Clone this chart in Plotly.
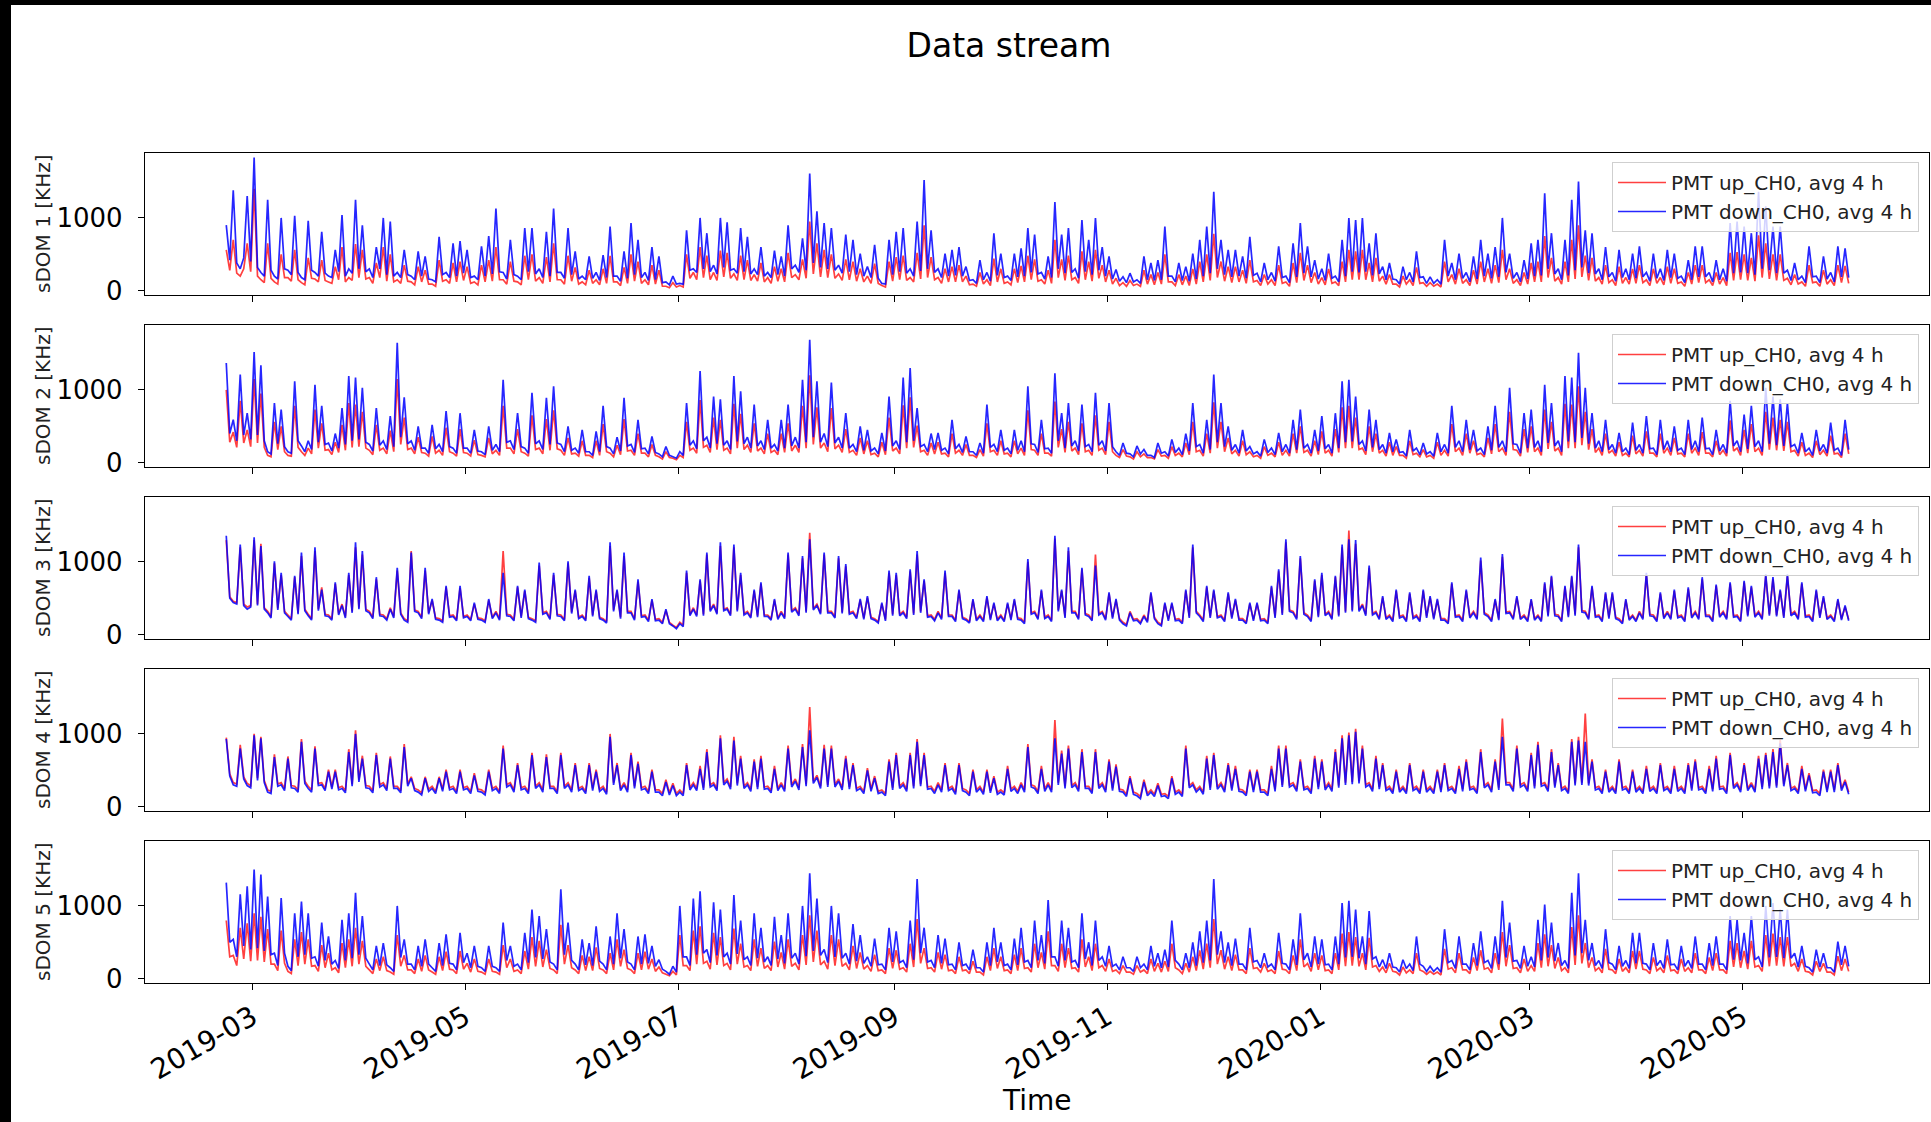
import pandas as pd
import plotly.graph_objects as go

# ---------------- data (KHz), one sub-list per month segment ----------------
MONTH_EDGES = ["2019-02-21", "2019-03-01", "2019-04-01", "2019-05-01", "2019-06-01", "2019-07-01",
               "2019-08-01", "2019-09-01", "2019-10-01", "2019-11-01", "2019-12-01", "2020-01-01",
               "2020-02-01", "2020-03-01", "2020-04-01", "2020-05-01", "2020-06-01"]

# spikes / main samples
SDOM1_DOWN = [
    [900, 1380, 300, 1300],
    [1830, 250, 1250, 200, 1000, 280, 1030, 180, 960, 250, 810, 200, 560, 1040, 300, 1250],
    [900, 300, 600, 1000, 950, 250, 560, 200, 540, 470, 150, 740, 250, 650, 680],
    [560, 200, 610, 750, 1130, 250, 700, 200, 860, 860, 300, 810, 1130, 250, 860],
    [540, 200, 470, 250, 490, 880, 200, 540, 930, 700, 250, 600, 470, 120, 200],
    [100, 830, 300, 1000, 790, 350, 1000, 940, 300, 860, 740, 300, 600, 250, 550, 470],
    [900, 350, 720, 1610, 1090, 930, 860, 350, 770, 700, 510, 330, 630, 100, 700],
    [810, 860, 300, 950, 1520, 830, 300, 510, 560, 600, 330, 150, 420, 250, 790],
    [510, 200, 510, 580, 860, 770, 250, 470, 1220, 770, 860, 300, 970, 700, 1000, 600],
    [470, 290, 190, 240, 150, 470, 380, 420, 880, 200, 380, 330, 510, 700, 880],
    [1360, 700, 560, 560, 470, 740, 240, 380, 250, 610, 200, 650, 930, 610, 420],
    [300, 510, 200, 700, 1000, 970, 1000, 650, 790, 330, 380, 150, 330, 250, 540, 190],
    [190, 150, 700, 380, 510, 250, 470, 700, 510, 600, 1000, 510, 250, 420],
    [650, 700, 1340, 790, 300, 700, 1250, 1500, 830, 790, 300, 600, 250, 560, 300, 510],
    [610, 250, 510, 300, 560, 510, 200, 420, 610, 610, 250, 420, 300, 930, 950],
    [880, 790, 1360, 1160, 880, 880, 280, 380, 200, 610, 200, 470, 250, 610, 580],
]
# troughs between consecutive samples
SDOM1_DOWN_LOW = [
    [420, 380, 450, 400],
    [320, 200, 280, 160, 300, 220, 250, 150, 280, 200, 240, 180, 260, 200, 240, 300],
    [260, 180, 300, 220, 200, 180, 220, 150, 200, 160, 120, 220, 180, 200, 240],
    [180, 150, 200, 230, 260, 160, 220, 150, 260, 230, 180, 200, 250, 170, 220],
    [160, 150, 170, 140, 180, 200, 130, 170, 220, 180, 140, 150, 110, 80, 90],
    [90, 280, 250, 300, 260, 230, 320, 280, 240, 260, 230, 220, 200, 180, 220, 200],
    [300, 250, 280, 380, 320, 300, 280, 240, 260, 220, 200, 180, 170, 90, 220],
    [260, 240, 200, 270, 300, 250, 180, 200, 210, 200, 140, 100, 150, 130, 210],
    [180, 140, 190, 200, 250, 230, 160, 180, 300, 240, 250, 170, 260, 220, 280, 200],
    [160, 130, 110, 120, 100, 150, 140, 150, 200, 120, 140, 130, 160, 200, 240],
    [300, 220, 190, 200, 170, 210, 120, 150, 130, 180, 110, 190, 240, 190, 160],
    [140, 170, 120, 200, 260, 250, 260, 210, 230, 150, 160, 90, 150, 120, 180, 100],
    [100, 90, 200, 150, 170, 120, 160, 200, 170, 190, 250, 170, 120, 160],
    [200, 210, 300, 230, 150, 210, 280, 320, 240, 230, 150, 190, 130, 180, 150, 170],
    [190, 130, 170, 140, 180, 170, 110, 150, 190, 190, 120, 150, 130, 240, 250],
    [240, 220, 300, 280, 240, 240, 140, 150, 110, 190, 110, 160, 120, 190, 180],
]
SDOM1_UP = [
    [560, 700, 200, 650],
    [1400, 150, 650, 120, 500, 180, 560, 110, 450, 160, 420, 120, 330, 600, 180, 640],
    [560, 180, 380, 600, 500, 150, 350, 120, 330, 280, 90, 420, 150, 380, 400],
    [330, 120, 350, 420, 600, 150, 400, 120, 480, 500, 180, 460, 650, 150, 480],
    [320, 120, 280, 150, 300, 480, 120, 320, 500, 400, 150, 350, 280, 60, 110],
    [70, 500, 250, 600, 480, 250, 550, 520, 230, 480, 420, 220, 380, 180, 330, 300],
    [520, 220, 430, 950, 650, 560, 500, 230, 430, 400, 300, 200, 370, 70, 400],
    [460, 480, 180, 520, 900, 460, 180, 300, 330, 350, 200, 90, 250, 150, 440],
    [300, 120, 300, 340, 480, 430, 150, 280, 700, 430, 480, 180, 540, 400, 560, 350],
    [280, 170, 110, 140, 90, 280, 220, 250, 500, 120, 220, 200, 300, 400, 500],
    [780, 400, 330, 330, 280, 420, 140, 220, 150, 350, 120, 380, 520, 350, 250],
    [180, 300, 120, 400, 560, 540, 560, 380, 450, 200, 220, 90, 200, 150, 320, 110],
    [110, 90, 400, 220, 300, 150, 280, 400, 300, 350, 560, 300, 150, 250],
    [380, 400, 750, 450, 180, 400, 700, 900, 480, 450, 180, 350, 150, 330, 180, 300],
    [350, 150, 300, 180, 330, 300, 120, 250, 350, 350, 150, 250, 180, 520, 530],
    [500, 450, 760, 650, 500, 500, 170, 220, 120, 350, 120, 280, 150, 350, 340],
]
SDOM1_UP_LOW = [
    [280, 240, 300, 260],
    [200, 110, 170, 90, 180, 130, 150, 80, 170, 120, 140, 100, 150, 120, 140, 180],
    [160, 100, 180, 130, 120, 100, 130, 80, 120, 90, 60, 130, 100, 120, 140],
    [100, 80, 120, 130, 150, 90, 130, 80, 150, 130, 100, 120, 150, 90, 130],
    [90, 80, 100, 80, 100, 120, 70, 100, 130, 100, 80, 90, 60, 40, 50],
    [50, 170, 150, 180, 150, 140, 190, 170, 140, 150, 140, 130, 120, 100, 130, 120],
    [180, 150, 170, 230, 190, 180, 170, 140, 150, 130, 120, 100, 100, 50, 130],
    [150, 140, 120, 160, 180, 150, 100, 120, 120, 120, 80, 60, 90, 70, 120],
    [100, 80, 110, 120, 150, 130, 90, 100, 180, 140, 150, 100, 150, 130, 170, 120],
    [90, 70, 60, 70, 60, 90, 80, 90, 120, 70, 80, 70, 90, 120, 140],
    [180, 130, 110, 120, 100, 120, 70, 90, 70, 100, 60, 110, 140, 110, 90],
    [80, 100, 70, 120, 150, 150, 150, 120, 130, 90, 90, 50, 90, 70, 100, 60],
    [60, 50, 120, 90, 100, 70, 90, 120, 100, 110, 150, 100, 70, 90],
    [120, 120, 180, 130, 90, 120, 160, 190, 140, 130, 90, 110, 70, 100, 90, 100],
    [110, 70, 100, 80, 100, 100, 60, 90, 110, 110, 70, 90, 70, 140, 150],
    [140, 130, 180, 160, 140, 140, 80, 90, 60, 110, 60, 90, 70, 110, 100],
]

SDOM2_DOWN = [
    [1370, 590, 1210, 680],
    [1520, 1340, 150, 820, 730, 150, 1120, 230, 300, 1070, 780, 270, 400, 750, 1190, 1170],
    [1030, 250, 750, 300, 640, 1650, 900, 300, 500, 200, 520, 250, 710, 200, 680],
    [200, 450, 150, 500, 250, 1140, 300, 680, 200, 960, 300, 890, 1050, 250, 500],
    [200, 450, 150, 430, 780, 200, 350, 890, 250, 590, 200, 360, 120, 220, 80],
    [150, 820, 300, 1260, 350, 910, 870, 300, 1190, 980, 350, 800, 300, 590, 250, 590],
    [800, 350, 1140, 1690, 1120, 400, 1100, 350, 680, 250, 500, 450, 200, 410, 910],
    [300, 1170, 1300, 750, 250, 400, 410, 200, 590, 250, 360, 150, 270, 800, 250],
    [450, 200, 450, 300, 1050, 250, 590, 200, 1230, 680, 820, 300, 800, 250, 960, 300],
    [820, 150, 270, 120, 230, 180, 100, 270, 150, 320, 200, 400, 820, 250, 590],
    [1210, 820, 500, 250, 450, 220, 150, 320, 200, 410, 250, 590, 730, 250, 450],
    [640, 250, 680, 1120, 1140, 910, 300, 730, 590, 250, 410, 320, 150, 450, 200, 270],
    [150, 410, 250, 780, 300, 590, 450, 200, 500, 780, 300, 1030, 250, 680],
    [730, 300, 1070, 820, 300, 1190, 1170, 1510, 1030, 680, 300, 590, 250, 410, 200, 550],
    [250, 640, 200, 590, 300, 500, 200, 590, 300, 620, 200, 450, 250, 850, 300],
    [660, 780, 300, 1030, 910, 870, 820, 250, 410, 200, 450, 250, 550, 200, 590],
]
SDOM2_DOWN_LOW = [
    [400, 300, 380, 320],
    [380, 300, 120, 260, 220, 130, 300, 150, 180, 280, 250, 160, 200, 250, 300, 320],
    [280, 160, 240, 180, 220, 350, 260, 170, 200, 130, 190, 150, 220, 130, 200],
    [130, 160, 110, 170, 150, 280, 180, 220, 130, 260, 180, 250, 270, 150, 170],
    [130, 150, 100, 150, 220, 120, 160, 230, 140, 190, 120, 140, 80, 100, 60],
    [100, 240, 190, 300, 200, 260, 240, 180, 290, 260, 200, 230, 180, 200, 160, 200],
    [230, 200, 280, 350, 280, 220, 270, 200, 200, 150, 170, 160, 120, 160, 230],
    [180, 280, 300, 220, 150, 180, 170, 120, 190, 140, 150, 100, 130, 210, 150],
    [170, 120, 170, 150, 260, 140, 190, 130, 300, 200, 230, 160, 220, 150, 240, 160],
    [220, 100, 130, 80, 120, 100, 70, 130, 90, 140, 110, 160, 220, 130, 180],
    [280, 220, 170, 130, 160, 120, 90, 140, 110, 150, 130, 180, 200, 130, 160],
    [190, 130, 200, 280, 290, 250, 160, 210, 180, 130, 150, 140, 90, 160, 110, 120],
    [90, 150, 130, 210, 150, 180, 160, 110, 170, 210, 150, 260, 130, 200],
    [210, 150, 270, 230, 150, 290, 280, 340, 260, 200, 150, 180, 130, 150, 110, 170],
    [130, 190, 110, 180, 150, 170, 110, 180, 150, 190, 110, 160, 130, 230, 150],
    [190, 220, 150, 260, 240, 230, 220, 130, 150, 100, 160, 130, 170, 100, 180],
]
SDOM2_UP = [
    [1000, 420, 850, 450],
    [1150, 950, 100, 560, 500, 100, 780, 150, 200, 730, 540, 180, 280, 520, 820, 800],
    [700, 170, 520, 200, 440, 1150, 620, 200, 350, 130, 360, 170, 480, 130, 460],
    [130, 310, 100, 340, 170, 780, 200, 460, 130, 650, 200, 600, 720, 170, 340],
    [130, 300, 100, 300, 530, 130, 240, 600, 170, 400, 130, 250, 80, 150, 60],
    [100, 560, 200, 860, 240, 620, 590, 200, 810, 670, 240, 540, 200, 400, 170, 400],
    [540, 240, 780, 1200, 760, 270, 750, 240, 460, 170, 340, 300, 130, 280, 620],
    [200, 790, 900, 510, 170, 270, 280, 130, 400, 170, 250, 100, 180, 540, 170],
    [300, 130, 300, 200, 720, 170, 400, 130, 840, 460, 560, 200, 540, 170, 650, 200],
    [560, 100, 180, 80, 150, 120, 70, 180, 100, 220, 130, 270, 560, 170, 400],
    [830, 560, 340, 170, 300, 150, 100, 220, 130, 280, 170, 400, 500, 170, 300],
    [430, 170, 460, 760, 780, 620, 200, 500, 400, 170, 280, 220, 100, 300, 130, 180],
    [100, 280, 170, 530, 200, 400, 300, 130, 340, 530, 200, 700, 170, 460],
    [500, 200, 730, 560, 200, 810, 800, 1050, 700, 460, 200, 400, 170, 280, 130, 370],
    [170, 430, 130, 400, 200, 340, 130, 400, 200, 420, 130, 300, 170, 580, 200],
    [450, 530, 200, 700, 620, 590, 560, 170, 280, 130, 300, 170, 370, 130, 400],
]
SDOM2_UP_LOW = [
    [280, 210, 270, 220],
    [270, 210, 80, 180, 150, 90, 210, 100, 120, 200, 170, 110, 140, 170, 210, 220],
    [200, 110, 170, 120, 150, 250, 180, 120, 140, 90, 130, 100, 150, 90, 140],
    [90, 110, 80, 120, 100, 200, 120, 150, 90, 180, 120, 170, 190, 100, 120],
    [90, 100, 70, 100, 150, 80, 110, 160, 100, 130, 80, 100, 50, 70, 40],
    [70, 170, 130, 210, 140, 180, 170, 120, 200, 180, 140, 160, 120, 140, 110, 140],
    [160, 140, 200, 250, 200, 150, 190, 140, 140, 100, 120, 110, 80, 110, 160],
    [120, 200, 210, 150, 100, 120, 120, 80, 130, 100, 100, 70, 90, 150, 100],
    [120, 80, 120, 100, 180, 100, 130, 90, 210, 140, 160, 110, 150, 100, 170, 110],
    [150, 70, 90, 50, 80, 70, 50, 90, 60, 100, 80, 110, 150, 90, 130],
    [200, 150, 120, 90, 110, 80, 60, 100, 80, 100, 90, 130, 140, 90, 110],
    [130, 90, 140, 200, 200, 180, 110, 150, 130, 90, 100, 100, 60, 110, 80, 80],
    [60, 100, 90, 150, 100, 130, 110, 80, 120, 150, 100, 180, 90, 140],
    [150, 100, 190, 160, 100, 200, 200, 240, 180, 140, 100, 130, 90, 100, 80, 120],
    [90, 130, 80, 130, 100, 120, 80, 130, 100, 130, 80, 110, 90, 160, 100],
    [130, 150, 100, 180, 170, 160, 150, 90, 100, 70, 110, 90, 120, 70, 120],
]

SDOM3_DOWN = [
    [1360, 440, 1240, 350],
    [1340, 1220, 300, 1010, 850, 250, 810, 1130, 260, 1200, 620, 250, 720, 400, 850, 1270],
    [1150, 300, 790, 250, 350, 920, 200, 1130, 300, 920, 490, 200, 670, 250, 670],
    [250, 440, 200, 490, 300, 850, 250, 670, 620, 200, 990, 300, 850, 250, 1010],
    [620, 250, 810, 620, 200, 1270, 620, 1130, 300, 760, 250, 490, 200, 350, 120],
    [150, 880, 350, 760, 1130, 400, 1270, 350, 1240, 850, 300, 620, 720, 250, 490, 300],
    [1130, 350, 1080, 1310, 400, 1130, 300, 1080, 970, 300, 490, 530, 200, 440, 880],
    [850, 300, 900, 1150, 760, 250, 300, 880, 250, 620, 200, 490, 250, 530, 440],
    [250, 440, 490, 200, 1040, 300, 620, 250, 1360, 620, 1200, 300, 920, 250, 950, 300],
    [580, 490, 150, 300, 200, 250, 580, 150, 440, 440, 200, 620, 1240, 250, 670],
    [620, 250, 580, 490, 200, 440, 440, 200, 670, 900, 1310, 300, 1080, 250, 760],
    [850, 300, 810, 1240, 1310, 1300, 400, 950, 300, 530, 250, 620, 250, 580, 250, 620],
    [530, 490, 200, 720, 250, 620, 300, 1060, 250, 490, 1110, 300, 530, 250],
    [490, 250, 720, 810, 250, 670, 810, 1240, 300, 670, 250, 580, 580, 200, 490, 250],
    [300, 850, 250, 580, 300, 620, 250, 650, 300, 790, 250, 690, 300, 720, 250],
    [740, 670, 300, 830, 790, 620, 830, 300, 720, 250, 620, 530, 250, 490, 400],
]
SDOM3_DOWN_LOW = [
    [500, 420, 400, 380],
    [400, 350, 230, 340, 300, 200, 280, 330, 200, 330, 260, 200, 270, 230, 300, 350],
    [330, 220, 260, 200, 230, 280, 170, 320, 220, 280, 210, 170, 240, 190, 230],
    [190, 210, 170, 220, 200, 260, 190, 230, 220, 170, 280, 210, 260, 190, 290],
    [220, 190, 250, 220, 160, 320, 220, 300, 200, 240, 180, 190, 150, 150, 80],
    [110, 260, 250, 260, 320, 280, 330, 260, 320, 270, 230, 240, 250, 200, 210, 220],
    [310, 260, 300, 340, 280, 300, 230, 290, 280, 220, 210, 220, 160, 190, 260],
    [260, 220, 270, 300, 240, 190, 210, 250, 180, 220, 160, 190, 180, 200, 190],
    [180, 200, 210, 150, 280, 210, 220, 180, 320, 230, 300, 210, 270, 190, 270, 200],
    [220, 200, 120, 190, 150, 170, 220, 120, 190, 190, 150, 230, 300, 180, 230],
    [230, 180, 220, 200, 150, 190, 190, 150, 230, 270, 320, 210, 280, 180, 240],
    [260, 210, 250, 300, 320, 320, 260, 270, 210, 210, 180, 230, 180, 220, 180, 230],
    [210, 200, 150, 240, 180, 230, 210, 280, 180, 200, 290, 210, 210, 180],
    [200, 180, 250, 260, 180, 240, 260, 310, 210, 240, 180, 220, 220, 150, 200, 180],
    [210, 260, 180, 220, 210, 230, 180, 230, 210, 250, 180, 240, 210, 240, 180],
    [250, 240, 210, 260, 250, 230, 260, 210, 240, 180, 230, 210, 180, 200, 190],
]
SDOM3_UP = [
    [1300, 460, 1200, 380],
    [1300, 1250, 320, 980, 820, 270, 790, 1080, 280, 1150, 650, 270, 700, 420, 820, 1200],
    [1100, 320, 760, 270, 370, 880, 220, 1150, 320, 880, 470, 220, 650, 270, 640],
    [270, 420, 220, 470, 320, 1150, 270, 650, 600, 220, 950, 320, 820, 270, 980],
    [600, 270, 780, 600, 220, 1220, 600, 1080, 320, 730, 270, 470, 220, 330, 130],
    [170, 850, 370, 740, 1100, 420, 1220, 370, 1200, 820, 320, 600, 700, 270, 470, 320],
    [1100, 370, 1050, 1400, 420, 1100, 320, 1050, 940, 320, 470, 510, 220, 420, 850],
    [820, 320, 870, 1100, 740, 270, 320, 850, 270, 600, 220, 470, 270, 510, 420],
    [270, 420, 470, 220, 1000, 320, 600, 270, 1320, 600, 1150, 320, 900, 270, 1100, 320],
    [560, 470, 170, 320, 220, 270, 560, 170, 420, 420, 220, 600, 1200, 270, 650],
    [600, 270, 560, 470, 220, 420, 420, 220, 650, 870, 1270, 320, 1050, 270, 740],
    [820, 320, 790, 1200, 1430, 1250, 420, 920, 320, 510, 270, 600, 270, 560, 270, 600],
    [510, 470, 220, 700, 270, 600, 320, 1020, 270, 470, 1070, 320, 510, 270],
    [470, 270, 700, 790, 270, 650, 790, 1200, 320, 650, 270, 560, 560, 220, 470, 270],
    [320, 820, 270, 560, 320, 600, 270, 630, 320, 760, 270, 670, 320, 700, 270],
    [720, 650, 320, 800, 760, 600, 800, 320, 700, 270, 600, 510, 270, 470, 380],
]
SDOM3_UP_LOW = [
    [520, 440, 420, 400],
    [420, 370, 250, 360, 320, 220, 300, 350, 220, 350, 280, 220, 290, 250, 320, 370],
    [350, 240, 280, 220, 250, 300, 190, 340, 240, 300, 230, 190, 260, 210, 250],
    [210, 230, 190, 240, 220, 280, 210, 250, 240, 190, 300, 230, 280, 210, 310],
    [240, 210, 270, 240, 180, 340, 240, 320, 220, 260, 200, 210, 170, 170, 100],
    [130, 280, 270, 280, 340, 300, 350, 280, 340, 290, 250, 260, 270, 220, 230, 240],
    [330, 280, 320, 360, 300, 320, 250, 310, 300, 240, 230, 240, 180, 210, 280],
    [280, 240, 290, 320, 260, 210, 230, 270, 200, 240, 180, 210, 200, 220, 210],
    [200, 220, 230, 170, 300, 230, 240, 200, 340, 250, 320, 230, 290, 210, 290, 220],
    [240, 220, 140, 210, 170, 190, 240, 140, 210, 210, 170, 250, 320, 200, 250],
    [250, 200, 240, 220, 170, 210, 210, 170, 250, 290, 340, 230, 300, 200, 260],
    [280, 230, 270, 320, 340, 340, 280, 290, 230, 230, 200, 250, 200, 240, 200, 250],
    [230, 220, 170, 260, 200, 250, 230, 300, 200, 220, 310, 230, 230, 200],
    [220, 200, 270, 280, 200, 260, 280, 330, 230, 260, 200, 240, 240, 170, 220, 200],
    [230, 280, 200, 240, 230, 250, 200, 250, 230, 270, 200, 260, 230, 260, 200],
    [270, 260, 230, 280, 270, 250, 280, 230, 260, 200, 250, 230, 200, 220, 210],
]

SDOM4_DOWN = [
    [930, 300, 800, 290],
    [980, 940, 200, 680, 300, 660, 250, 890, 250, 800, 300, 480, 480, 250, 750, 1000],
    [660, 250, 710, 300, 660, 250, 820, 390, 200, 390, 250, 390, 480, 250, 480],
    [250, 430, 200, 480, 250, 800, 300, 570, 250, 710, 300, 680, 250, 710, 300],
    [570, 250, 570, 480, 250, 960, 570, 300, 710, 590, 250, 480, 200, 340, 290],
    [200, 570, 300, 520, 750, 300, 940, 350, 910, 660, 300, 620, 660, 250, 520, 300],
    [800, 350, 820, 1050, 400, 800, 800, 350, 660, 570, 250, 500, 390, 200, 620],
    [710, 300, 710, 890, 710, 250, 300, 570, 250, 570, 200, 480, 250, 480, 390],
    [200, 520, 250, 300, 820, 250, 520, 300, 940, 730, 800, 300, 750, 250, 750, 300],
    [620, 550, 200, 390, 150, 340, 200, 290, 150, 390, 200, 800, 300, 250, 660],
    [710, 300, 570, 520, 200, 480, 480, 200, 520, 800, 800, 300, 620, 250, 660],
    [620, 300, 750, 940, 980, 1030, 800, 300, 660, 570, 250, 480, 250, 570, 250, 480],
    [250, 480, 570, 250, 520, 615, 250, 750, 300, 620, 960, 300, 800, 300],
    [710, 850, 300, 750, 570, 250, 890, 910, 890, 620, 250, 480, 250, 620, 250, 480],
    [250, 520, 250, 570, 250, 520, 250, 570, 620, 250, 520, 660, 250, 710, 300],
    [570, 300, 660, 710, 750, 870, 570, 250, 520, 430, 200, 480, 480, 570, 340],
]
SDOM4_DOWN_LOW = [
    [420, 280, 380, 260],
    [360, 330, 180, 280, 220, 260, 200, 320, 200, 290, 220, 240, 230, 190, 280, 340],
    [260, 190, 270, 220, 250, 190, 280, 220, 160, 210, 180, 210, 230, 180, 230],
    [180, 210, 160, 220, 180, 270, 200, 230, 180, 250, 200, 250, 180, 250, 200],
    [220, 180, 220, 210, 170, 300, 220, 200, 250, 230, 180, 200, 150, 160, 150],
    [150, 230, 220, 230, 270, 220, 300, 240, 290, 250, 210, 240, 240, 190, 220, 210],
    [270, 230, 280, 320, 250, 270, 270, 230, 240, 220, 180, 210, 180, 150, 230],
    [250, 210, 250, 280, 240, 180, 200, 220, 170, 220, 150, 200, 170, 190, 170],
    [160, 210, 180, 200, 270, 180, 210, 200, 300, 250, 260, 210, 250, 180, 250, 200],
    [220, 210, 140, 170, 110, 150, 140, 140, 110, 170, 140, 260, 200, 170, 230],
    [240, 200, 220, 210, 150, 200, 200, 150, 210, 270, 270, 210, 230, 180, 240],
    [230, 210, 260, 300, 310, 320, 270, 210, 240, 220, 180, 200, 180, 220, 180, 200],
    [180, 200, 220, 180, 210, 230, 180, 260, 200, 230, 300, 210, 270, 210],
    [250, 280, 210, 260, 220, 180, 290, 300, 290, 230, 180, 200, 180, 230, 180, 200],
    [180, 210, 180, 220, 180, 210, 180, 220, 230, 180, 210, 240, 180, 250, 200],
    [220, 200, 240, 250, 260, 280, 220, 180, 210, 190, 150, 200, 200, 220, 170],
]
SDOM4_UP = [
    [950, 330, 850, 320],
    [1000, 960, 230, 720, 330, 690, 280, 930, 280, 830, 330, 510, 510, 280, 790, 1050],
    [700, 280, 740, 330, 690, 280, 860, 410, 230, 410, 280, 410, 510, 280, 510],
    [280, 460, 230, 510, 280, 840, 330, 600, 280, 740, 330, 720, 280, 740, 330],
    [600, 280, 600, 510, 280, 1000, 600, 330, 740, 620, 280, 510, 230, 370, 320],
    [230, 600, 330, 560, 790, 330, 980, 380, 960, 700, 330, 650, 700, 280, 560, 330],
    [840, 380, 860, 1370, 430, 850, 840, 380, 700, 600, 280, 530, 420, 230, 650],
    [740, 330, 740, 930, 740, 280, 330, 600, 280, 600, 230, 510, 280, 510, 420],
    [230, 560, 280, 330, 860, 280, 560, 330, 1190, 770, 840, 330, 790, 280, 790, 330],
    [650, 580, 230, 420, 180, 370, 230, 320, 180, 420, 230, 840, 330, 280, 700],
    [740, 330, 600, 560, 230, 510, 510, 230, 560, 840, 840, 330, 650, 280, 700],
    [650, 330, 790, 980, 1020, 1070, 840, 330, 700, 600, 280, 510, 280, 600, 280, 510],
    [280, 510, 600, 280, 560, 650, 280, 790, 330, 650, 1210, 330, 840, 330],
    [740, 890, 330, 790, 600, 280, 930, 960, 1280, 650, 280, 510, 280, 650, 280, 510],
    [280, 560, 280, 600, 280, 560, 280, 600, 650, 280, 560, 700, 280, 740, 330],
    [600, 330, 700, 740, 790, 920, 600, 280, 560, 460, 230, 510, 510, 600, 370],
]
SDOM4_UP_LOW = [
    [450, 310, 410, 290],
    [390, 360, 210, 310, 250, 290, 230, 350, 230, 320, 250, 270, 260, 220, 310, 370],
    [290, 220, 300, 250, 280, 220, 310, 250, 190, 240, 210, 240, 260, 210, 260],
    [210, 240, 190, 250, 210, 300, 230, 260, 210, 280, 230, 280, 210, 280, 230],
    [250, 210, 250, 240, 200, 330, 250, 230, 280, 260, 210, 230, 180, 190, 180],
    [180, 260, 250, 260, 300, 250, 330, 270, 320, 280, 240, 270, 270, 220, 250, 240],
    [300, 260, 310, 350, 280, 300, 300, 260, 270, 250, 210, 240, 210, 180, 260],
    [280, 240, 280, 310, 270, 210, 230, 250, 200, 250, 180, 230, 200, 220, 200],
    [190, 240, 210, 230, 300, 210, 240, 230, 330, 280, 290, 240, 280, 210, 280, 230],
    [250, 240, 170, 200, 140, 180, 170, 170, 140, 200, 170, 290, 230, 200, 260],
    [270, 230, 250, 240, 180, 230, 230, 180, 240, 300, 300, 240, 260, 210, 270],
    [260, 240, 290, 330, 340, 350, 300, 240, 270, 250, 210, 230, 210, 250, 210, 230],
    [210, 230, 250, 210, 240, 260, 210, 290, 230, 260, 330, 240, 300, 240],
    [280, 310, 240, 290, 250, 210, 320, 330, 320, 260, 210, 230, 210, 260, 210, 230],
    [210, 240, 210, 250, 210, 240, 210, 250, 260, 210, 240, 270, 210, 280, 230],
    [250, 230, 270, 280, 290, 310, 250, 210, 240, 220, 180, 230, 230, 250, 200],
]

SDOM5_DOWN = [
    [1320, 540, 1160, 1270],
    [1500, 1430, 1130, 350, 1110, 170, 900, 1060, 900, 300, 770, 580, 250, 810, 900, 1180],
    [860, 200, 450, 490, 150, 1000, 540, 200, 450, 540, 150, 490, 610, 200, 630],
    [350, 450, 150, 450, 150, 770, 450, 200, 630, 950, 860, 680, 200, 1230, 770],
    [200, 540, 490, 720, 200, 580, 900, 680, 200, 580, 610, 450, 260, 100, 170],
    [1000, 300, 1100, 1200, 400, 1050, 950, 350, 1150, 800, 300, 900, 700, 300, 850, 600],
    [900, 350, 1000, 1450, 1100, 400, 1000, 900, 350, 750, 600, 300, 550, 200, 700],
    [650, 250, 800, 1370, 700, 250, 600, 550, 200, 500, 200, 400, 150, 500, 700],
    [500, 200, 550, 700, 250, 800, 600, 1080, 300, 800, 700, 250, 900, 500, 800, 300],
    [450, 200, 300, 150, 300, 200, 450, 350, 400, 800, 200, 350, 500, 650, 800],
    [1370, 650, 500, 550, 200, 700, 250, 350, 200, 630, 200, 540, 900, 350, 580],
    [540, 200, 580, 1040, 1070, 950, 580, 930, 300, 260, 350, 150, 260, 200, 580, 170],
    [170, 150, 680, 250, 580, 200, 490, 650, 250, 580, 1070, 770, 250, 450],
    [300, 810, 1020, 770, 490, 250, 1180, 1450, 810, 490, 250, 680, 200, 450, 250, 630],
    [630, 200, 490, 250, 540, 200, 450, 250, 580, 200, 490, 580, 200, 860, 810],
    [630, 860, 300, 1000, 1040, 950, 950, 350, 450, 150, 400, 350, 150, 510, 450],
]
SDOM5_DOWN_LOW = [
    [500, 300, 450, 400],
    [420, 380, 330, 180, 350, 110, 300, 330, 280, 170, 250, 200, 140, 250, 280, 330],
    [280, 120, 180, 190, 100, 290, 200, 120, 170, 200, 100, 180, 210, 120, 220],
    [150, 170, 100, 170, 100, 250, 170, 120, 220, 290, 270, 230, 120, 330, 250],
    [120, 190, 180, 240, 120, 200, 280, 230, 120, 200, 210, 170, 130, 60, 90],
    [300, 180, 330, 350, 220, 320, 300, 200, 340, 260, 180, 280, 230, 180, 270, 210],
    [280, 200, 310, 380, 320, 220, 300, 280, 200, 240, 210, 170, 190, 120, 230],
    [220, 150, 260, 350, 230, 150, 210, 190, 120, 180, 120, 150, 90, 180, 230],
    [180, 120, 190, 230, 150, 250, 210, 300, 170, 250, 230, 150, 270, 180, 250, 170],
    [170, 120, 150, 100, 150, 120, 170, 150, 160, 250, 120, 150, 180, 220, 250],
    [330, 220, 180, 200, 120, 230, 150, 160, 120, 210, 120, 190, 260, 160, 200],
    [190, 120, 200, 290, 300, 280, 200, 270, 160, 140, 160, 90, 140, 110, 200, 100],
    [100, 90, 220, 140, 200, 120, 180, 220, 140, 200, 290, 240, 140, 170],
    [160, 250, 290, 240, 180, 140, 320, 350, 250, 180, 140, 220, 120, 170, 140, 210],
    [210, 120, 180, 140, 190, 120, 170, 140, 200, 120, 180, 200, 120, 260, 250],
    [210, 260, 160, 290, 300, 280, 280, 160, 170, 90, 160, 150, 90, 190, 170],
]
SDOM5_UP = [
    [800, 320, 700, 760],
    [900, 850, 680, 200, 660, 100, 540, 640, 540, 180, 460, 350, 150, 490, 540, 700],
    [520, 120, 270, 300, 90, 600, 320, 120, 270, 320, 90, 300, 370, 120, 380],
    [210, 270, 90, 270, 90, 460, 270, 120, 380, 570, 520, 400, 120, 740, 460],
    [120, 320, 300, 430, 120, 350, 540, 400, 120, 350, 370, 270, 160, 60, 100],
    [600, 180, 660, 720, 240, 630, 570, 210, 690, 480, 180, 540, 420, 180, 510, 360],
    [540, 210, 600, 870, 660, 240, 600, 540, 210, 450, 360, 180, 330, 120, 420],
    [390, 150, 480, 820, 420, 150, 360, 330, 120, 300, 120, 240, 90, 300, 420],
    [300, 120, 330, 420, 150, 480, 360, 650, 180, 480, 420, 150, 540, 300, 480, 180],
    [270, 120, 180, 90, 180, 120, 270, 210, 240, 480, 120, 210, 300, 390, 480],
    [820, 390, 300, 330, 120, 420, 150, 210, 120, 380, 120, 320, 540, 210, 350],
    [320, 120, 350, 620, 640, 570, 350, 560, 180, 160, 210, 90, 160, 120, 350, 100],
    [100, 90, 410, 150, 350, 120, 290, 390, 150, 350, 640, 460, 150, 270],
    [180, 490, 610, 460, 290, 150, 710, 870, 490, 290, 150, 410, 120, 270, 150, 380],
    [380, 120, 290, 150, 320, 120, 270, 150, 350, 120, 290, 350, 120, 520, 490],
    [380, 520, 180, 600, 620, 570, 570, 210, 270, 90, 240, 210, 90, 310, 270],
]
SDOM5_UP_LOW = [
    [300, 180, 270, 240],
    [250, 230, 200, 110, 210, 70, 180, 200, 170, 100, 150, 120, 80, 150, 170, 200],
    [170, 70, 110, 110, 60, 170, 120, 70, 100, 120, 60, 110, 130, 70, 130],
    [90, 100, 60, 100, 60, 150, 100, 70, 130, 170, 160, 140, 70, 200, 150],
    [70, 110, 110, 140, 70, 120, 170, 140, 70, 120, 130, 100, 80, 40, 50],
    [180, 110, 200, 210, 130, 190, 180, 120, 200, 160, 110, 170, 140, 110, 160, 130],
    [170, 120, 190, 230, 190, 130, 180, 170, 120, 140, 130, 100, 110, 70, 140],
    [130, 90, 160, 210, 140, 90, 130, 110, 70, 110, 70, 90, 50, 110, 140],
    [110, 70, 110, 140, 90, 150, 130, 180, 100, 150, 140, 90, 160, 110, 150, 100],
    [100, 70, 90, 60, 90, 70, 100, 90, 100, 150, 70, 90, 110, 130, 150],
    [200, 130, 110, 120, 70, 140, 90, 100, 70, 130, 70, 110, 160, 100, 120],
    [110, 70, 120, 170, 180, 170, 120, 160, 100, 80, 100, 50, 80, 70, 120, 60],
    [60, 50, 130, 80, 120, 70, 110, 130, 80, 120, 170, 140, 80, 100],
    [100, 150, 170, 140, 110, 80, 190, 210, 150, 110, 80, 130, 70, 100, 80, 130],
    [130, 70, 110, 80, 110, 70, 100, 80, 120, 70, 110, 120, 70, 160, 150],
    [130, 160, 100, 170, 180, 170, 170, 100, 100, 50, 100, 90, 50, 110, 100],
]

PANEL_LABELS = ["sDOM 1 [KHz]", "sDOM 2 [KHz]", "sDOM 3 [KHz]", "sDOM 4 [KHz]", "sDOM 5 [KHz]"]
UP_NAME = "PMT up_CH0, avg 4 h"
DOWN_NAME = "PMT down_CH0, avg 4 h"
Y_TICKS = [0, 1000]
X_TICK_START = "2019-03-01"

PANELS = [
    ((SDOM1_UP, SDOM1_UP_LOW), (SDOM1_DOWN, SDOM1_DOWN_LOW)),
    ((SDOM2_UP, SDOM2_UP_LOW), (SDOM2_DOWN, SDOM2_DOWN_LOW)),
    ((SDOM3_UP, SDOM3_UP_LOW), (SDOM3_DOWN, SDOM3_DOWN_LOW)),
    ((SDOM4_UP, SDOM4_UP_LOW), (SDOM4_DOWN, SDOM4_DOWN_LOW)),
    ((SDOM5_UP, SDOM5_UP_LOW), (SDOM5_DOWN, SDOM5_DOWN_LOW)),
]


def expand(series):
    """Interleave samples with the troughs read between them, spread over each month."""
    main, lows = series
    xs, ys = [], []
    for k, seg in enumerate(main):
        tr = lows[k]
        vals = []
        for j, v in enumerate(seg):
            vals.append(v)
            if j < len(tr):
                vals.append(tr[j])
        vals.extend(tr[len(seg):])
        t0 = pd.Timestamp(MONTH_EDGES[k])
        t1 = pd.Timestamp(MONTH_EDGES[k + 1])
        step = (t1 - t0) / len(vals)
        for i, v in enumerate(vals):
            xs.append(t0 + step * (i + 0.5))
            ys.append(v)
    return xs, ys


# ---------------- layout geometry (pixels) ----------------
W, H = 1931, 1122
ML, MR, MT, MB = 145, 2, 153, 139
PW = W - ML - MR
PH = H - MT - MB
PANEL_H = 142
PITCH = 172

FONT = "DejaVu Sans"
RED = "rgba(255,0,0,0.75)"
BLUE = "rgba(0,0,255,0.85)"

fig = go.Figure()
layout = dict(
    width=W, height=H,
    margin=dict(l=ML, r=MR, t=MT, b=MB, pad=0),
    paper_bgcolor="white", plot_bgcolor="white",
    font=dict(family=FONT, color="black"),
    showlegend=True,
)

annotations = []
for i, (up, down) in enumerate(PANELS):
    n = i + 1
    xa = "x" if n == 1 else f"x{n}"
    ya = "y" if n == 1 else f"y{n}"
    lg = "legend" if n == 1 else f"legend{n}"
    xu, yu = expand(up)
    xd, yd = expand(down)
    fig.add_trace(go.Scatter(x=xu, y=yu, mode="lines", name=UP_NAME,
                             line=dict(color=RED, width=1.7, simplify=False),
                             xaxis=xa, yaxis=ya, legend=lg))
    fig.add_trace(go.Scatter(x=xd, y=yd, mode="lines", name=DOWN_NAME,
                             line=dict(color=BLUE, width=1.7, simplify=False),
                             xaxis=xa, yaxis=ya, legend=lg))

    top_px = PITCH * i
    bot_px = top_px + PANEL_H
    dom = [1 - bot_px / PH, 1 - top_px / PH]

    xkey = "xaxis" if n == 1 else f"xaxis{n}"
    ykey = "yaxis" if n == 1 else f"yaxis{n}"
    layout[xkey] = dict(
        domain=[0, 1], anchor=ya, type="date",
        range=["2019-01-29 05:00", "2020-06-23 12:00"],
        tick0=X_TICK_START, dtick="M2", tickformat="%Y-%m",
        showline=True, mirror=True, linecolor="black", linewidth=1.3,
        ticks="outside", ticklen=6, tickwidth=1.3, tickcolor="black",
        showgrid=False, zeroline=False,
        showticklabels=(n == 5), tickangle=-30,
        tickfont=dict(family=FONT, size=28, color="black"),
    )
    if n != 1:
        layout[xkey]["matches"] = "x"
    layout[ykey] = dict(
        domain=dom, anchor=xa,
        range=[-60, 1893], tickvals=Y_TICKS,
        showline=True, mirror=True, linecolor="black", linewidth=1.3,
        ticks="outside", ticklen=6, tickwidth=1.3, tickcolor="black",
        showgrid=False, zeroline=False, ticklabelstandoff=10,
        tickfont=dict(family=FONT, size=26, color="black"),
    )
    layout[lg] = dict(
        x=(1919 - ML) / PW, xanchor="right", xref="paper",
        y=dom[1] - 9 / PH, yanchor="top", yref="paper",
        bgcolor="rgba(255,255,255,0.8)", bordercolor="#cfcfcf", borderwidth=1,
        font=dict(family=FONT, size=20, color="#222222"),
        tracegroupgap=0, itemwidth=48,
    )
    annotations.append(dict(
        text=PANEL_LABELS[i], xref="paper", yref="paper",
        x=(43 - ML) / PW, y=(dom[0] + dom[1]) / 2, xanchor="center", yanchor="middle",
        textangle=-90, showarrow=False, font=dict(family=FONT, size=20, color="#222222"),
    ))

annotations.append(dict(
    text="Time", xref="paper", yref="paper", x=0.5, y=(H - MB - 1100) / PH,
    xanchor="center", yanchor="middle", showarrow=False,
    font=dict(family=FONT, size=28, color="black"),
))
layout["annotations"] = annotations
layout["title"] = dict(
    text="Data stream", xref="paper", x=(1009 - ML) / PW, xanchor="center",
    yref="container", y=1 - 45.5 / H, yanchor="middle",
    font=dict(family=FONT, size=33, color="black"),
)
# black screenshot border strips (top and left)
layout["shapes"] = [
    dict(type="rect", xref="paper", yref="paper", layer="above",
         x0=(0 - ML) / PW, x1=(W - ML) / PW, y0=(H - MB - 5) / PH, y1=(H - MB) / PH + 0.01,
         fillcolor="black", line=dict(width=0)),
    dict(type="rect", xref="paper", yref="paper", layer="above",
         x0=(0 - ML) / PW - 0.01, x1=(11 - ML) / PW, y0=(H - MB - H) / PH - 0.01, y1=(H - MB) / PH + 0.01,
         fillcolor="black", line=dict(width=0)),
]

fig.update_layout(**layout)
fig.write_html("out.html")
